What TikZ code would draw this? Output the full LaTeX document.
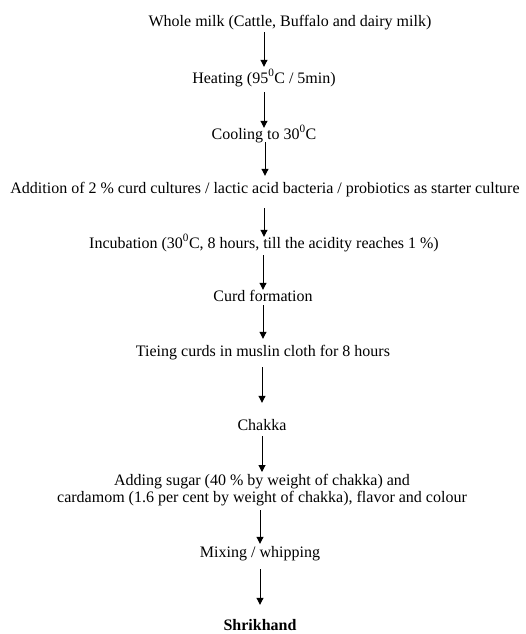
\documentclass[tikz,border=0pt]{standalone}
\usepackage{fontspec}
\setmainfont{Liberation Serif}
\usetikzlibrary{arrows.meta}
\begin{document}
\begin{tikzpicture}[x=1pt,y=-1pt,
  txt/.style={inner sep=0pt, anchor=base, font=\fontsize{16}{17}\selectfont, text height=11pt, text depth=3.5pt},
  arr/.style={line width=1pt, -{Triangle[length=7pt,width=7pt]}}]
\useasboundingbox (0,0) rectangle (526,634);
\node[txt] (milk) at (290,27) {Whole milk (Cattle, Buffalo and dairy milk)};
\node[txt] (heat) at (264,83) {Heating (95\textsuperscript{0}C / 5min)};
\node[txt] (cool) at (264,139) {Cooling to 30\textsuperscript{0}C};
\node[txt] (add) at (265,193) {Addition of 2 \% curd cultures / lactic acid bacteria / probiotics as starter culture};
\node[txt] (inc) at (264,248) {Incubation (30\textsuperscript{0}C, 8 hours, till the acidity reaches 1 \%)};
\node[txt] (curd) at (263,301) {Curd formation};
\node[txt] (tie) at (263,356) {Tieing curds in muslin cloth for 8 hours};
\node[txt] (chakka) at (262,430) {Chakka};
\node[inner sep=0pt, anchor=north, align=center, font=\fontsize{16}{17}\selectfont] (sugar) at (262,474.5)
  {Adding sugar (40 \% by weight of chakka) and\\cardamom (1.6 per cent by weight of chakka), flavor and colour};
\node[txt] (mix) at (260,557) {Mixing / whipping};
\node[txt, font=\fontsize{16}{17}\selectfont\bfseries] (shri) at (260,630) {Shrikhand};
\draw[arr, shorten <=1.5pt, shorten >=5pt] (milk.south -| heat.north) -- (heat.north);
\draw[arr, shorten <=5.5pt, shorten >=0pt] (heat.south -| cool.north) -- (cool.north);
\draw[arr, shorten <=-0.5pt, shorten >=6pt] (cool.south -| add.north) -- (add.north);
\draw[arr, shorten <=11.5pt, shorten >=0pt] (add.south -| inc.north) -- (inc.north);
\draw[arr, shorten <=3.5pt, shorten >=0pt] (inc.south -| curd.north) -- (curd.north);
\draw[arr, shorten <=0.5pt, shorten >=6pt] (curd.south -| tie.north) -- (tie.north);
\draw[arr, shorten <=7.5pt, shorten >=16pt] (tie.south -| chakka.north) -- (chakka.north);
\draw[arr, shorten <=2.5pt, shorten >=2.5pt] (chakka.south -| sugar.north) -- (sugar.north);
\draw[arr, shorten <=3.5pt, shorten >=2pt] (sugar.south -| mix.north) -- (mix.north);
\draw[arr, shorten <=8.5pt, shorten >=14pt] (mix.south -| shri.north) -- (shri.north);
\end{tikzpicture}
\end{document}
